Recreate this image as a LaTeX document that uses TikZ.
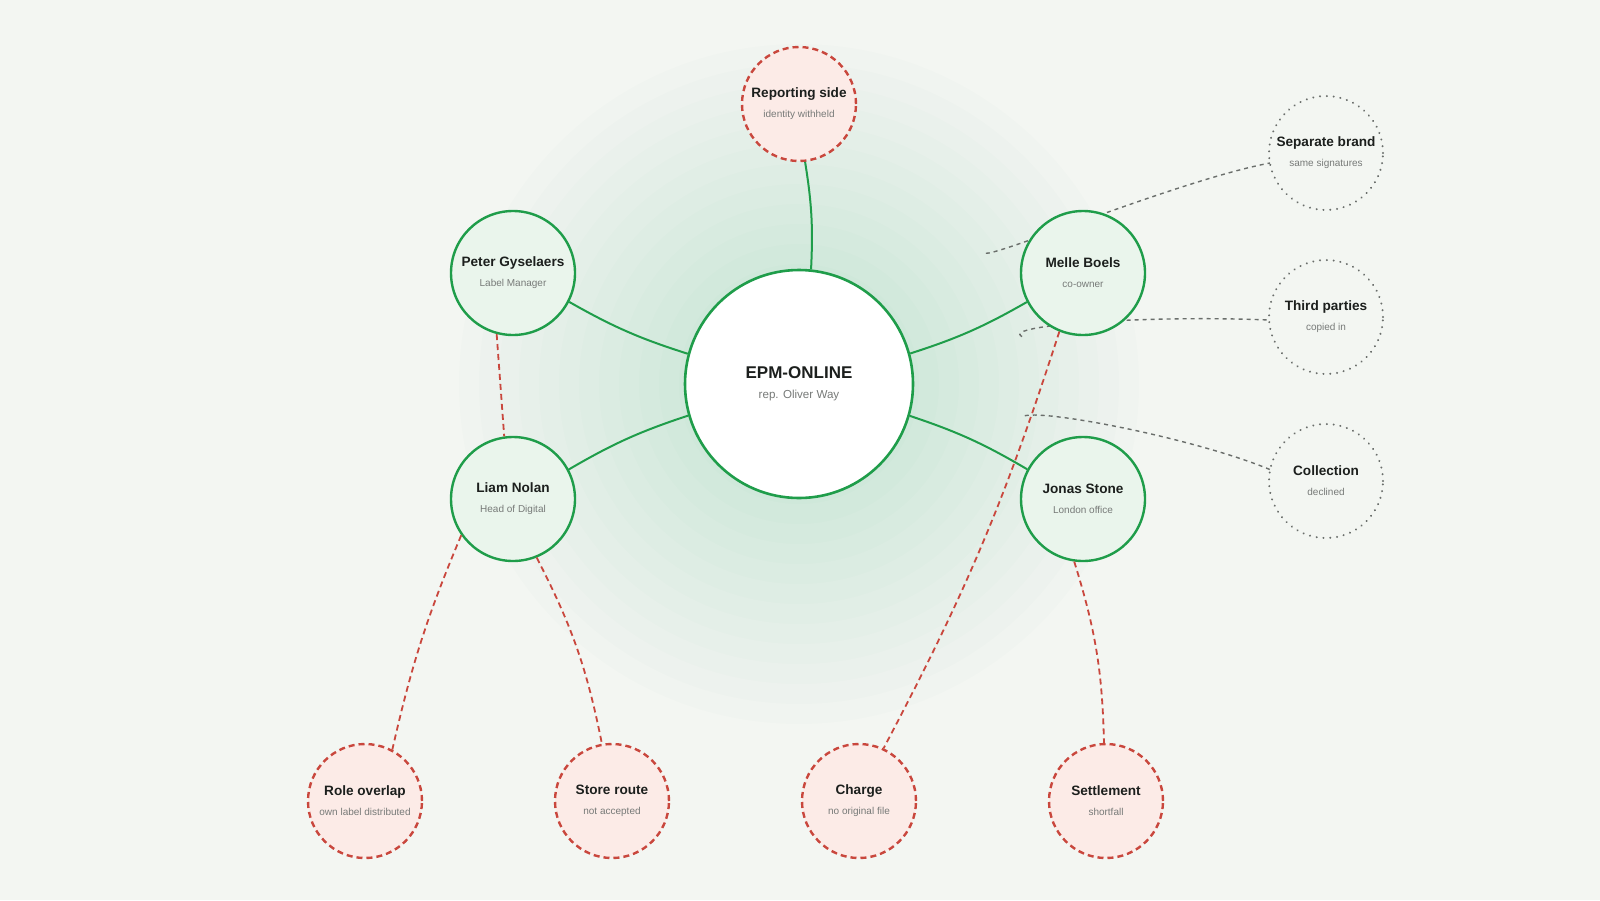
\documentclass[tikz,border=0pt]{standalone}
\usepackage{fontspec}
\setmainfont{Liberation Sans}
\usetikzlibrary{arrows.meta, positioning}
\definecolor{bgcol}{HTML}{F3F6F2}
\definecolor{okline}{HTML}{1F9D4A}
\definecolor{okfill}{HTML}{EAF5EC}
\definecolor{badline}{HTML}{C9473D}
\definecolor{badfill}{HTML}{FCEBE7}
\definecolor{offline}{HTML}{6A6E6B}
\definecolor{subtext}{HTML}{777A78}
\definecolor{maintext}{HTML}{1C1F1D}
\newcommand{\twoline}[2]{{\fontsize{6.8}{8}\selectfont\bfseries\color{maintext}#1}\\[-1pt]{\fontsize{5}{6}\selectfont\color{subtext}#2}}

\begin{document}
\begin{tikzpicture}[
    x=0.5pt, y=-0.5pt,
    every node/.style={font=\small, align=center, circle, inner sep=0pt},
    hub/.style={draw=okline, line width=1.3pt, fill=white, minimum size=114pt},
    person/.style={draw=okline, line width=1.2pt, fill=okfill, minimum size=62pt},
    issue/.style={draw=badline, line width=1.2pt, dash pattern=on 3pt off 2pt, fill=badfill, minimum size=57pt},
    outside/.style={draw=offline, line width=1.1pt, dash pattern=on 0.01pt off 3.4pt, line cap=round, minimum size=57pt},
    tie/.style={okline, line width=1pt},
    conflict/.style={badline, line width=0.9pt, dash pattern=on 3pt off 2pt},
    loose/.style={offline, line width=0.7pt, dash pattern=on 2pt off 2pt}
]
\useasboundingbox (0,0) rectangle (1600,900);
\fill[bgcol] (0,0) rectangle (1600,900);
\foreach \r in {340,320,...,120}
  \fill[okline, opacity=0.012] (799,384) circle (\r);

% dashed lines to outside parties (under the nodes)
\coordinate (h) at (799,384);
\draw[loose] (h) ++(35:114pt) .. controls (1000,255) and (1180,180) .. (1270,163);
\draw[loose] (h) ++(12:114pt) .. controls (1000,325) and (1150,315) .. (1269,320);
\draw[loose] (h) ++(-8:114pt) .. controls (1050,410) and (1200,440) .. (1271,470);

% hub
\node[hub] (epm) at (799,384) {\fontsize{8.5}{10}\selectfont\bfseries\color{maintext}EPM-ONLINE\\[-1pt]{\fontsize{5.8}{7}\selectfont\mdseries\color{subtext}rep. Oliver Way}};

% people
\node[person] (peter) at (513,273) {\twoline{Peter Gyselaers}{Label Manager}};
\node[person] (liam) at (513,499) {\twoline{Liam Nolan}{Head of Digital}};
\node[person] (melle) at (1083,273) {\twoline{Melle Boels}{co-owner}};
\node[person] (jonas) at (1083,499) {\twoline{Jonas Stone}{London office}};

% issues
\node[issue] (report) at (799,104) {\twoline{Reporting side}{identity withheld}};
\node[issue] (role) at (365,801) {\twoline{Role overlap}{own label distributed}};
\node[issue] (store) at (612,801) {\twoline{Store route}{not accepted}};
\node[issue] (charge) at (859,801) {\twoline{Charge}{no original file}};
\node[issue] (settle) at (1106,801) {\twoline{Settlement}{shortfall}};

% outside parties
\node[outside] (brand) at (1326,153) {\twoline{Separate brand}{same signatures}};
\node[outside] (third) at (1326,317) {\twoline{Third parties}{copied in}};
\node[outside] (coll) at (1326,481) {\twoline{Collection}{declined}};

% ties to the hub
\draw[tie] (epm) to[bend right=6] (report);
\draw[tie] (epm) to[bend left=6] (peter);
\draw[tie] (epm) to[bend right=6] (liam);
\draw[tie] (epm) to[bend right=6] (melle);
\draw[tie] (epm) to[bend left=6] (jonas);

% conflicts
\draw[conflict] (peter.-105) -- (liam.98);
\draw[conflict] (liam.-145) to[bend right=5] (role.62);
\draw[conflict] (liam.-68) to[bend left=8] (store.100);
\draw[conflict] (melle.-112) to[bend left=5] (charge.65);
\draw[conflict] (jonas.-98) to[bend left=8] (settle.92);

\end{tikzpicture}
\end{document}
